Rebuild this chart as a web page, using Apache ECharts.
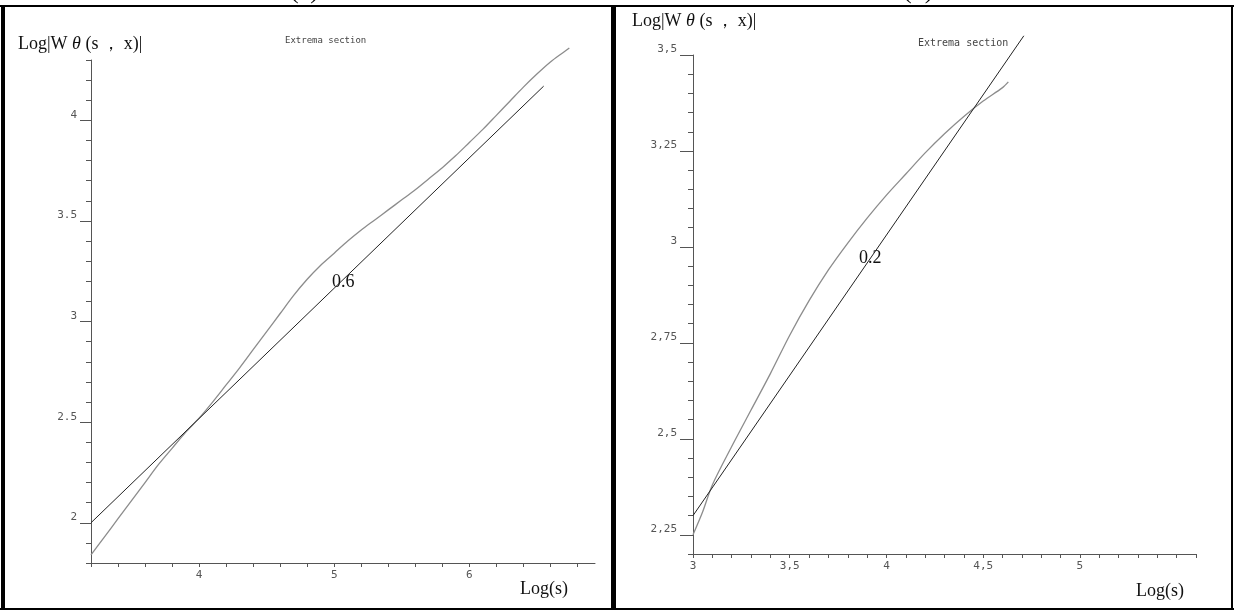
<!DOCTYPE html>
<html>
<head>
<meta charset="utf-8">
<script src="https://cdn.jsdelivr.net/npm/echarts@6/dist/echarts.min.js"></script>
<style>
html,body{margin:0;padding:0;background:#fff;}
#chart{width:1234px;height:612px;}
</style>
</head>
<body>
<div id="chart"></div>
<script>
// ---------- data ----------
// Panel (a): slope 0.6
const leftCurveX = [3.2, 3.3, 3.4, 3.5, 3.6, 3.7, 3.8, 3.9, 4.0, 4.1, 4.2, 4.3, 4.4, 4.5, 4.6, 4.7, 4.8, 4.9, 5.0, 5.1, 5.2, 5.3, 5.4, 5.5, 5.6, 5.7, 5.8, 5.9, 6.0, 6.1, 6.2, 6.3, 6.4, 6.5, 6.6, 6.7, 6.74];
const leftCurveY = [1.84, 1.93, 2.02, 2.11, 2.20, 2.29, 2.37, 2.45, 2.52, 2.60, 2.685, 2.77, 2.86, 2.95, 3.04, 3.13, 3.21, 3.28, 3.34, 3.40, 3.455, 3.505, 3.555, 3.605, 3.655, 3.71, 3.765, 3.825, 3.89, 3.955, 4.025, 4.095, 4.165, 4.23, 4.29, 4.34, 4.36];
const leftFitX = [3.2, 6.55];
const leftFitY = [2.0, 4.17];
const leftXTicks = [4, 5, 6];
const leftXLabels = ['4', '5', '6'];
const leftYTicks = [2, 2.5, 3, 3.5, 4];
const leftYLabels = ['2', '2.5', '3', '3.5', '4'];

// Panel (b): slope 0.2
const rightCurveX = [3.0, 3.05, 3.1, 3.2, 3.3, 3.4, 3.5, 3.6, 3.7, 3.8, 3.9, 4.0, 4.1, 4.2, 4.3, 4.4, 4.5, 4.6, 4.63];
const rightCurveY = [2.25, 2.31, 2.38, 2.48, 2.575, 2.67, 2.77, 2.86, 2.94, 3.01, 3.075, 3.135, 3.19, 3.245, 3.295, 3.34, 3.38, 3.415, 3.43];
const rightFitX = [3.0, 4.71];
const rightFitY = [2.30, 3.55];
const rightXTicks = [3, 3.5, 4, 4.5, 5];
const rightXLabels = ['3', '3,5', '4', '4,5', '5'];
const rightYTicks = [2.25, 2.5, 2.75, 3, 3.25, 3.5];
const rightYLabels = ['2,25', '2,5', '2,75', '3', '3,25', '3,5'];

const yName = 'Log|W';
const yNameTheta = 'θ';
const yNameTail = ' (s\u2009，\u2009x)|';
const xName = 'Log(s)';
const panelNote = 'Extrema section';
const leftSlopeText = '0.6';
const rightSlopeText = '0.2';
const panelTags = ['(a)', '(b)'];

// ---------- helpers ----------
function steps(a, b, s) {
  const out = [];
  const n = Math.round((b - a) / s);
  for (let i = 0; i <= n; i++) out.push(+(a + i * s).toFixed(4));
  return out;
}
function zip(xs, ys) { return xs.map((x, i) => [x, ys[i]]); }
function labelFor(ticks, labels) {
  return function (v) {
    const i = ticks.findIndex(t => Math.abs(t - v) < 1e-6);
    return i >= 0 ? labels[i] : '';
  };
}

const axisColor = '#555';
const labelFont = {
  color: '#555', fontFamily: 'DejaVu Sans Mono', fontSize: 11
};

function mainX(grid, min, max, ticks, labels) {
  return {
    type: 'value', gridIndex: grid, min: min, max: max, position: 'bottom',
    splitLine: { show: false },
    axisLine: { show: true, lineStyle: { color: axisColor, width: 1 } },
    axisTick: { show: true, customValues: ticks, length: 4, lineStyle: { color: axisColor } },
    axisLabel: Object.assign({ show: true, customValues: ticks, margin: 7,
      formatter: labelFor(ticks, labels) }, labelFont)
  };
}
function minorX(grid, min, max, vals) {
  return {
    type: 'value', gridIndex: grid, min: min, max: max, position: 'bottom', offset: 0,
    splitLine: { show: false },
    axisLine: { show: false },
    axisTick: { show: true, customValues: vals, length: 4, lineStyle: { color: axisColor } },
    axisLabel: { show: false }
  };
}
function mainY(grid, min, max, ticks, labels, len, margin) {
  return {
    type: 'value', gridIndex: grid, min: min, max: max, position: 'left',
    splitLine: { show: false },
    axisLine: { show: true, lineStyle: { color: axisColor, width: 1 } },
    axisTick: { show: true, customValues: ticks, length: len, lineStyle: { color: axisColor } },
    axisLabel: Object.assign({ show: true, customValues: ticks, margin: margin,
      verticalAlign: 'bottom', formatter: labelFor(ticks, labels) }, labelFont)
  };
}
function minorY(grid, min, max, vals) {
  return {
    type: 'value', gridIndex: grid, min: min, max: max, position: 'left', offset: 0,
    splitLine: { show: false },
    axisLine: { show: false },
    axisTick: { show: true, customValues: vals, length: 5, lineStyle: { color: axisColor } },
    axisLabel: { show: false }
  };
}

const chart = echarts.init(document.getElementById('chart'), null, { renderer: 'canvas' });

const nameRich = {
  a: { fontFamily: 'Liberation Serif', fontSize: 18, fill: '#111' },
  t: { fontFamily: 'Liberation Serif', fontSize: 18, fontStyle: 'italic', fill: '#111' }
};
const nameText = '{a|' + yName + ' }{t|' + yNameTheta + '}{a|' + yNameTail + '}';

const option = {
  backgroundColor: '#ffffff',
  animation: false,
  grid: [
    { left: 91, top: 60, width: 504, height: 503 },
    { left: 693, top: 55, width: 503, height: 499 }
  ],
  xAxis: [
    mainX(0, 3.2, 6.93, leftXTicks, leftXLabels),
    minorX(0, 3.2, 6.93, steps(3.2, 6.8, 0.2)),
    mainX(1, 3.0, 5.6, rightXTicks, rightXLabels),
    minorX(1, 3.0, 5.6, steps(3.0, 5.6, 0.1))
  ],
  yAxis: [
    mainY(0, 1.8, 4.3, leftYTicks, leftYLabels, 11, 14),
    minorY(0, 1.8, 4.3, steps(1.8, 4.3, 0.1)),
    mainY(1, 2.2, 3.5, rightYTicks, rightYLabels, 13, 16),
    minorY(1, 2.2, 3.5, steps(2.2, 3.5, 0.05))
  ],
  series: [
    { type: 'line', xAxisIndex: 0, yAxisIndex: 0, data: zip(leftCurveX, leftCurveY),
      showSymbol: false, smooth: 0.3, clip: false,
      lineStyle: { color: '#8c8c8c', width: 1.3 } },
    { type: 'line', xAxisIndex: 0, yAxisIndex: 0, data: zip(leftFitX, leftFitY),
      showSymbol: false, clip: false,
      lineStyle: { color: '#222', width: 1 } },
    { type: 'line', xAxisIndex: 2, yAxisIndex: 2, data: zip(rightCurveX, rightCurveY),
      showSymbol: false, smooth: 0.3, clip: false,
      lineStyle: { color: '#8c8c8c', width: 1.3 } },
    { type: 'line', xAxisIndex: 2, yAxisIndex: 2, data: zip(rightFitX, rightFitY),
      showSymbol: false, clip: false,
      lineStyle: { color: '#222', width: 1 } }
  ],
  graphic: [
    // frame lines
    { type: 'rect', shape: { x: 0, y: 5, width: 1234, height: 2 }, style: { fill: '#000' }, z: 100 },
    { type: 'rect', shape: { x: 0, y: 608, width: 1234, height: 2 }, style: { fill: '#000' }, z: 100 },
    { type: 'rect', shape: { x: 1, y: 5, width: 4, height: 605 }, style: { fill: '#000' }, z: 100 },
    { type: 'rect', shape: { x: 611, y: 5, width: 5, height: 605 }, style: { fill: '#000' }, z: 100 },
    { type: 'rect', shape: { x: 1231, y: 5, width: 2, height: 605 }, style: { fill: '#000' }, z: 100 },
    // panel tags, cut by the top edge
    { type: 'text', left: 290, top: -22, style: { text: panelTags[0], fontFamily: 'Liberation Serif', fontSize: 26, fill: '#000' } },
    { type: 'text', left: 903, top: -22, style: { text: panelTags[1], fontFamily: 'Liberation Serif', fontSize: 26, fill: '#000' } },
    // y-axis names
    { type: 'text', left: 18, top: 35, style: { text: nameText, rich: nameRich } },
    { type: 'text', left: 632, top: 12, style: { text: nameText, rich: nameRich } },
    // x-axis names
    { type: 'text', left: 520, top: 580, style: { text: xName, fontFamily: 'Liberation Serif', fontSize: 18, fill: '#111' } },
    { type: 'text', left: 1136, top: 582, style: { text: xName, fontFamily: 'Liberation Serif', fontSize: 18, fill: '#111' } },
    // notes
    { type: 'text', left: 285, top: 36, style: { text: panelNote, fontFamily: 'DejaVu Sans Mono', fontSize: 9, fill: '#444' } },
    { type: 'text', left: 918, top: 38, style: { text: panelNote, fontFamily: 'DejaVu Sans Mono', fontSize: 10, fill: '#444' } },
    // slope labels
    { type: 'text', left: 332, top: 273, style: { text: leftSlopeText, fontFamily: 'Liberation Serif', fontSize: 18, fill: '#111' } },
    { type: 'text', left: 859, top: 249, style: { text: rightSlopeText, fontFamily: 'Liberation Serif', fontSize: 18, fill: '#111' } }
  ]
};
chart.setOption(option);
</script>
</body>
</html>
